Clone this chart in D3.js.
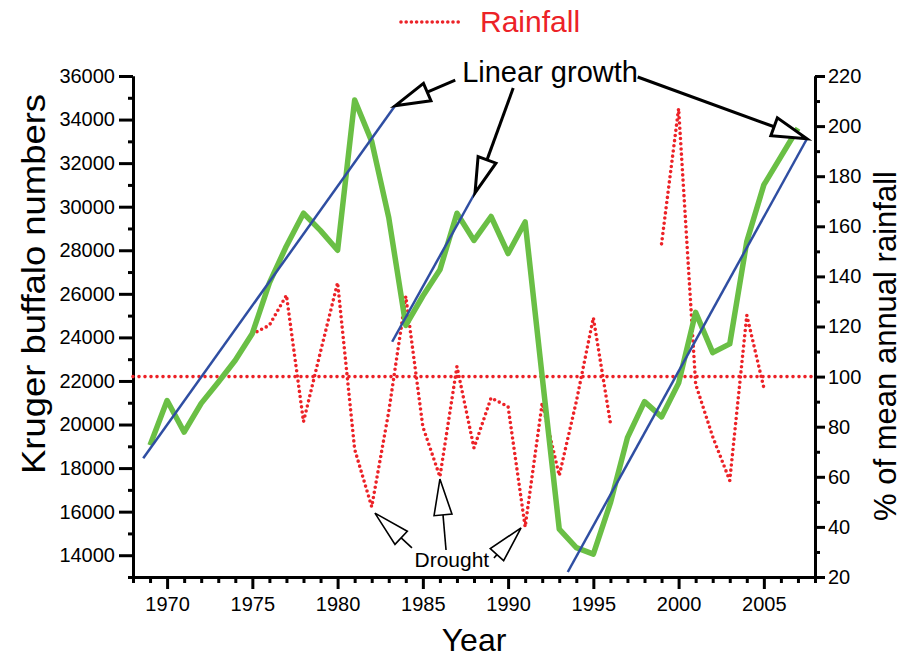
<!DOCTYPE html>
<html>
<head>
<meta charset="utf-8">
<script src="https://cdn.jsdelivr.net/npm/d3@7"></script>
<style>
body { margin: 0; background: #fff; }
text { font-family: "Liberation Sans", Arial, sans-serif; }
</style>
</head>
<body>
<svg id="chart" width="905" height="657"></svg>
<script>
// Kruger buffalo counts (left axis)
var buffaloYears = d3.range(1969, 2008);
var buffalo = [19050, 21100, 19650, 20970, 21940, 22950, 24180, 26500, 28200, 29700,
               28900, 28000, 34900, 33000, 29500, 24550, 25900, 27100, 29700, 28450,
               29550, 27850, 29300, 22200, 15200, 14350, 14050, 16400, 19400, 21050,
               20350, 21900, 25150, 23300, 23700, 28400, 31000, 32300, 33600];

// rainfall as % of mean annual (right axis), gap in 1997-98
var rainYears = d3.range(1975, 2006);
var rainfall = [117, 120.5, 132.5, 82, 110, 137.5, 71, 48, 86, 132,
                80, 60, 104, 71.5, 91.5, 88, 40, 89.5, 60.5, 90,
                123.5, 81.5, null, null, 153, 207, 97, 76, 58.5, 124.5, 95.5];
var meanRain = 100;

// "linear growth" segments: [year, buffalo]
var growthStart = [[1968.6, 18450], [1983.2, 23800], [1993.5, 13230]];
var growthEnd = [[1983.37, 34630], [1988.06, 30640], [2007.53, 33120]];
// tails of the arrows pointing at the ends of those segments
var growthTails = [[1986.9, 35816], [1990.3, 35449], [1997.6, 35954]];

// drought arrows in [year, rain %]: tail, tip
var droughtTails = [[1984.36, 31.6], [1986.36, 30.8], [1989.17, 27.6]];
var droughtTips = [[1982.19, 45.5], [1986.0, 59.1], [1990.76, 39.6]];

var yearTicks = d3.range(1970, 2006, 5);
var leftTicks = d3.range(14000, 36001, 2000);
var rightTicks = d3.range(20, 221, 20);

var red = "#ec2227", green = "#6abf45", blue = "#2f4ea2";
var dots = "0,5.2";

var svg = d3.select("#chart");
var x = d3.scaleLinear().domain([1968, 2008]).range([133, 815]);
var yL = d3.scaleLinear().domain([13000, 36000]).range([577, 76]);
var yR = d3.scaleLinear().domain([20, 220]).range([577, 76]);

function styleAxis(g){
    g.selectAll("path, line").attr("stroke", "#000").attr("stroke-width", 3);
    g.selectAll("text").attr("font-size", 20).attr("fill", "#000")
        .attr("font-family", "Liberation Sans, Arial, sans-serif");
}

// minor ticks first
svg.append("g").attr("transform", "translate(133,0)")
    .call(d3.axisLeft(yL).tickValues(d3.range(13000, 36000, 2000)).tickSize(5).tickSizeOuter(0).tickFormat(""))
    .call(styleAxis);
svg.append("g").attr("transform", "translate(815,0)")
    .call(d3.axisRight(yR).tickValues(d3.range(30, 220, 20)).tickSize(5).tickSizeOuter(0).tickFormat(""))
    .call(styleAxis);
svg.append("g").attr("transform", "translate(0,577)")
    .call(d3.axisBottom(x).tickValues(d3.range(1968, 2009).filter(function(d){ return d % 5 !== 0; }))
        .tickSize(6).tickSizeOuter(0).tickFormat(""))
    .call(styleAxis);

// major ticks + labels
svg.append("g").attr("transform", "translate(133,0)")
    .call(d3.axisLeft(yL).tickValues(leftTicks).tickSize(14).tickPadding(4).tickSizeOuter(0).tickFormat(d3.format("d")))
    .call(styleAxis);
svg.append("g").attr("transform", "translate(815,0)")
    .call(d3.axisRight(yR).tickValues(rightTicks).tickSize(10).tickPadding(3).tickSizeOuter(0).tickFormat(d3.format("d")))
    .call(styleAxis);
svg.append("g").attr("transform", "translate(0,577)")
    .call(d3.axisBottom(x).tickValues(yearTicks).tickSize(12).tickPadding(8).tickSizeOuter(0).tickFormat(d3.format("d")))
    .call(styleAxis);

// axis titles
svg.append("text").attr("transform", "translate(45,284) rotate(-90)")
    .attr("text-anchor", "middle").attr("font-size", 33)
    .attr("textLength", 380).attr("lengthAdjust", "spacingAndGlyphs")
    .text("Kruger buffalo numbers");
svg.append("text").attr("transform", "translate(896,346) rotate(-90)")
    .attr("text-anchor", "middle").attr("font-size", 31)
    .text("% of mean annual rainfall");
svg.append("text").attr("x", 474).attr("y", 651)
    .attr("text-anchor", "middle").attr("font-size", 32).text("Year");

// legend
svg.append("line").attr("x1", 401).attr("x2", 460).attr("y1", 22).attr("y2", 22)
    .attr("stroke", red).attr("stroke-width", 3.6)
    .attr("stroke-dasharray", dots).attr("stroke-linecap", "round");
svg.append("text").attr("x", 480).attr("y", 32).attr("font-size", 30)
    .attr("fill", red).text("Rainfall");

// mean rainfall line
svg.append("line").attr("x1", x(1968)).attr("x2", x(2008))
    .attr("y1", yR(meanRain)).attr("y2", yR(meanRain))
    .attr("stroke", red).attr("stroke-width", 3.6)
    .attr("stroke-dasharray", "0,6").attr("stroke-linecap", "round");

// rainfall
var rainData = rainYears.map(function(d, i){ return {year: d, v: rainfall[i]}; });
var rainLine = d3.line()
    .defined(function(d){ return d.v !== null; })
    .x(function(d){ return x(d.year); })
    .y(function(d){ return yR(d.v); });
svg.append("path").datum(rainData).attr("d", rainLine)
    .attr("fill", "none").attr("stroke", red).attr("stroke-width", 3.6)
    .attr("stroke-dasharray", dots).attr("stroke-linecap", "round");

// buffalo numbers
var bufData = buffaloYears.map(function(d, i){ return {year: d, v: buffalo[i]}; });
var bufLine = d3.line()
    .x(function(d){ return x(d.year); })
    .y(function(d){ return yL(d.v); });
svg.append("path").datum(bufData).attr("d", bufLine)
    .attr("fill", "none").attr("stroke", green).attr("stroke-width", 5.5)
    .attr("stroke-linejoin", "round");

// linear growth lines
growthStart.forEach(function(s, i){
    var e = growthEnd[i];
    svg.append("line")
        .attr("x1", x(s[0])).attr("y1", yL(s[1]))
        .attr("x2", x(e[0])).attr("y2", yL(e[1]))
        .attr("stroke", blue).attr("stroke-width", 2.5);
});

// hollow-headed arrow
function arrow(x1, y1, x2, y2, len, hw, sw){
    var dx = x2 - x1, dy = y2 - y1, L = Math.sqrt(dx*dx + dy*dy);
    var ux = dx / L, uy = dy / L;
    var bx = x2 - ux * len, by = y2 - uy * len;
    svg.append("line").attr("x1", x1).attr("y1", y1).attr("x2", bx).attr("y2", by)
        .attr("stroke", "#000").attr("stroke-width", sw);
    var pts = [[x2, y2], [bx - uy * hw, by + ux * hw], [bx + uy * hw, by - ux * hw]];
    svg.append("polygon").attr("points", pts.map(function(p){ return p.join(","); }).join(" "))
        .attr("fill", "#fff").attr("stroke", "#000").attr("stroke-width", sw)
        .attr("stroke-linejoin", "miter");
}

growthTails.forEach(function(t, i){
    var e = growthEnd[i];
    arrow(x(t[0]), yL(t[1]), x(e[0]), yL(e[1]), 35, 9.5, 3);
});
svg.append("text").attr("x", x(1992.46)).attr("y", yL(35724))
    .attr("text-anchor", "middle").attr("font-size", 29).text("Linear growth");

droughtTails.forEach(function(t, i){
    var e = droughtTips[i];
    arrow(x(t[0]), yR(t[1]), x(e[0]), yR(e[1]), 36, 9, 1.6);
});
svg.append("text").attr("x", x(1986.7)).attr("y", yR(24))
    .attr("text-anchor", "middle").attr("font-size", 21).text("Drought");
</script>
</body>
</html>
